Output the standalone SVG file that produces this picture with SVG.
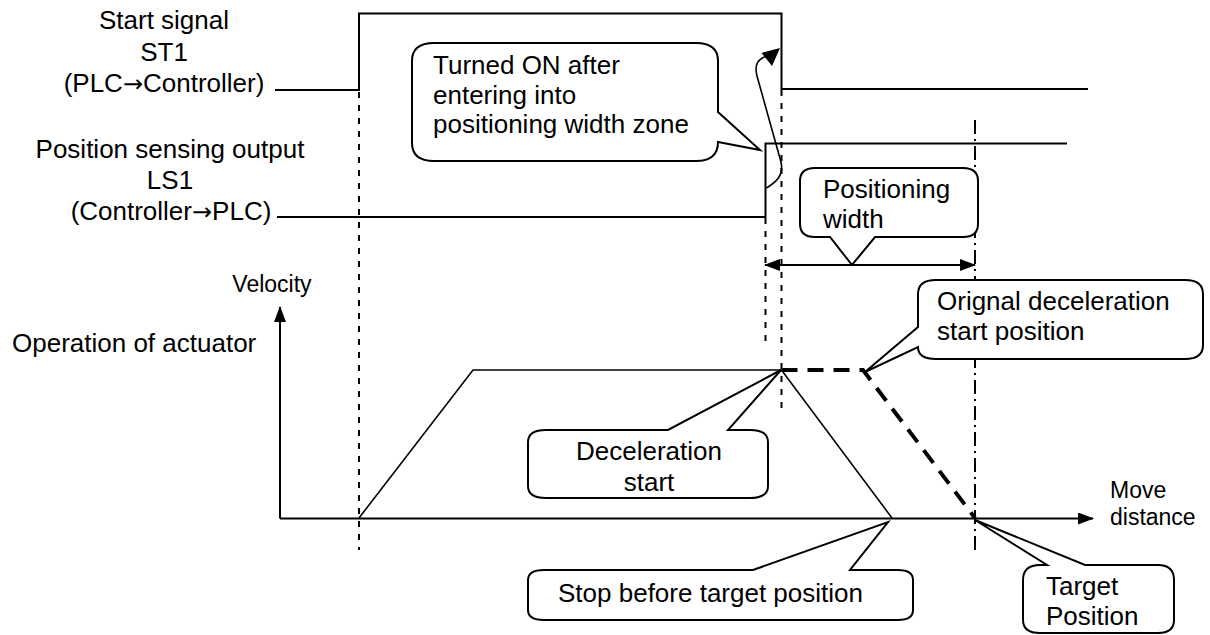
<svg xmlns="http://www.w3.org/2000/svg" width="1210" height="635" viewBox="0 0 1210 635">
<style>
  text { font-family: "Liberation Sans", Arial, sans-serif; fill: #000; }
  .t { font-size: 26px; }
  .s { font-size: 23px; }
  .arr { font-family: "DejaVu Sans", sans-serif; font-size: 24px; }
  .sig { fill: none; stroke: #000; stroke-width: 2; }
  .dash { fill: none; stroke: #000; stroke-width: 2; stroke-dasharray: 6 7; }
  .dashdot { fill: none; stroke: #000; stroke-width: 2; stroke-dasharray: 14 5 2 5; }
  .prof { fill: none; stroke: #000; stroke-width: 1.6; }
  .thick { fill: none; stroke: #000; stroke-width: 4; stroke-dasharray: 16 10; }
  .axis { fill: none; stroke: #000; stroke-width: 2; }
  .co { fill: #fff; stroke: #000; stroke-width: 2; stroke-linejoin: miter; }
</style>
<defs>
  <marker id="ah" viewBox="0 0 16 12" refX="15" refY="6" markerWidth="16" markerHeight="12" markerUnits="userSpaceOnUse" orient="auto-start-reverse">
    <path d="M0,0 L16,6 L0,12 Z" fill="#000"/>
  </marker>
</defs>

<g id="labels">
  <text class="t" x="164" y="29" text-anchor="middle">Start signal</text>
  <text class="t" x="164" y="61" text-anchor="middle">ST1</text>
  <text class="t" x="164" y="92" text-anchor="middle">(PLC<tspan class="arr">→</tspan>Controller)</text>
  <text class="t" x="170" y="158" text-anchor="middle">Position sensing output</text>
  <text class="t" x="170" y="189" text-anchor="middle">LS1</text>
  <text class="t" x="171" y="220" text-anchor="middle">(Controller<tspan class="arr">→</tspan>PLC)</text>
  <text class="s" x="272" y="292" text-anchor="middle">Velocity</text>
  <text class="t" x="12" y="352">Operation of actuator</text>
  <text class="s" x="1110" y="498">Move</text>
  <text class="s" x="1110" y="525">distance</text>
</g>

<g id="connectors">
  <line class="dash" x1="359" y1="92" x2="359" y2="550"/>
  <line class="dash" x1="765.5" y1="218" x2="765.5" y2="343"/>
  <line class="dash" x1="781.5" y1="90" x2="781.5" y2="408"/>
  <line class="dashdot" x1="975" y1="120" x2="975" y2="555"/>
  <path id="st1" class="sig" d="M275,90 L359,90 L359,13.5 L781.5,13.5 L781.5,89 L1088,89"/>
  <path id="ls1" class="sig" d="M277,217 L765.5,217 L765.5,143.5 L1067,143.5"/>
  <line class="axis" x1="280" y1="518.5" x2="280" y2="307" marker-end="url(#ah)"/>
  <line class="axis" x1="280" y1="518.5" x2="1093" y2="518.5" marker-end="url(#ah)"/>
  <path class="prof" d="M359,518 L473,370 L781.5,370 L892,518"/>
  <path class="thick" d="M781.5,370 L863,370 L975,518"/>
  <line class="axis" x1="765" y1="265" x2="975" y2="265" marker-start="url(#ah)" marker-end="url(#ah)"/>
  <path class="prof" d="M766.5,188 C776,182 784,176 781,162 L757,76 C754,64 758,59 767,56"/>
  <path d="M780,48 L761.5,53 L772,66 Z" fill="#000"/>
</g>

<g id="callout-turned-on">
  <path class="co" d="M434,43 L696,43 Q718,43 718,61 L718,112 L760,150 L718,142 Q718,161 696,161 L434,161 Q412,161 412,143 L412,61 Q412,43 434,43 Z"/>
  <text class="t" x="433" y="74">Turned ON after</text>
  <text class="t" x="433" y="104">entering into</text>
  <text class="t" x="433" y="133">positioning width zone</text>
</g>

<g id="callout-positioning-width">
  <path class="co" d="M815,168 L963,168 Q978,168 978,181 L978,224 Q978,237 963,237 L875,237 L852,265 L830,237 L815,237 Q800,237 800,224 L800,181 Q800,168 815,168 Z"/>
  <text class="t" x="823" y="198">Positioning</text>
  <text class="t" x="823" y="228">width</text>
</g>

<g id="callout-original-decel">
  <path class="co" d="M936,280 L1185,280 Q1203,280 1203,294 L1203,345 Q1203,359 1185,359 L936,359 Q918,359 918,347 L865,372 L918,327 L918,294 Q918,280 936,280 Z"/>
  <text class="t" x="937" y="310">Orignal deceleration</text>
  <text class="t" x="937" y="340">start position</text>
</g>

<g id="callout-decel-start">
  <path class="co" d="M546,430 L668,430 L781,370 L728,430 L750,430 Q768,430 768,442 L768,486 Q768,498 750,498 L546,498 Q528,498 528,486 L528,442 Q528,430 546,430 Z"/>
  <text class="t" x="649" y="460" text-anchor="middle">Deceleration</text>
  <text class="t" x="649" y="491" text-anchor="middle">start</text>
</g>

<g id="callout-stop-before">
  <path class="co" d="M544,570 L753,570 L888,522 L850,570 L898,570 Q913,570 913,580 L913,610 Q913,620 898,620 L544,620 Q528,620 528,610 L528,580 Q528,570 544,570 Z"/>
  <text class="t" x="558" y="602">Stop before target position</text>
</g>

<g id="callout-target">
  <path class="co" d="M1040,565 L1047,565 L975,520 L1085,565 L1158,565 Q1174,565 1174,580 L1174,620 Q1174,633 1158,633 L1040,633 Q1023,633 1023,620 L1023,580 Q1023,565 1040,565 Z"/>
  <text class="t" x="1046" y="595">Target</text>
  <text class="t" x="1046" y="625">Position</text>
</g>
</svg>
